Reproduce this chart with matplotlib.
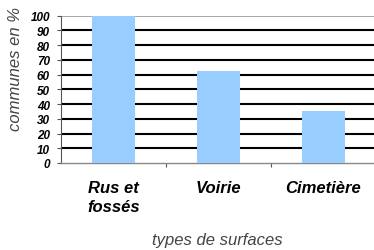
import matplotlib
matplotlib.use("Agg")
import matplotlib.pyplot as plt
import numpy as np

categories = ["Rus et\nfossés", "Voirie", "Cimetière"]
values = [100, 62.5, 35]
yticks = [0, 10, 20, 30, 40, 50, 60, 70, 80, 90, 100]

plt.rcParams['font.family'] = ['Liberation Sans', 'DejaVu Sans']

fig = plt.figure(figsize=(3.74, 2.51), dpi=100)
W, H = 374, 251
left, right, top, bottom = 61, 376, 16.7, 164
ax = fig.add_axes([left / W, 1 - bottom / H, (right - left) / W, (bottom - top) / H])

x = np.arange(len(categories))
ax.bar(x, values, width=0.41, color="#99ccff", zorder=3)
ax.set_xlim(-0.5, len(categories) - 0.5)
ax.set_ylim(0, 100)
ax.set_yticks(yticks)
ax.set_yticklabels([str(t) for t in yticks], fontsize=8.5, fontweight="bold", fontstyle="italic")
for t in yticks[1:-1]:
    ax.axhline(t, color="black", lw=1.5, zorder=1)
ax.axhline(100, color="#999999", lw=1.2, zorder=1)

ax.set_xticks([0.5, 1.5])
ax.set_xticklabels([])
ax.tick_params(axis="x", length=3, color="#555555", width=0.8)
ax.tick_params(axis="y", length=3, color="#555555", width=0.8, pad=5)
for i, c in enumerate(categories):
    ax.text(i, -11.5, c, ha="center", va="top", fontsize=12, fontweight="bold",
            fontstyle="italic", linespacing=1.3, transform=ax.transData)

for s in ["top", "right"]:
    ax.spines[s].set_visible(False)
ax.spines["left"].set_color("#555555")
ax.spines["bottom"].set_color("#888888")
ax.spines["left"].set_linewidth(0.8)
ax.spines["bottom"].set_linewidth(1.0)

fig.text(16 / W, 1 - 69 / H, "communes en %", rotation=90, ha="center", va="center",
         fontsize=12, fontstyle="italic", color="#444444")
fig.text(217 / W, 1 - 241 / H, "types de surfaces", ha="center", va="center",
         fontsize=12, fontstyle="italic", color="#444444")

fig.savefig("out.png", dpi=100)
